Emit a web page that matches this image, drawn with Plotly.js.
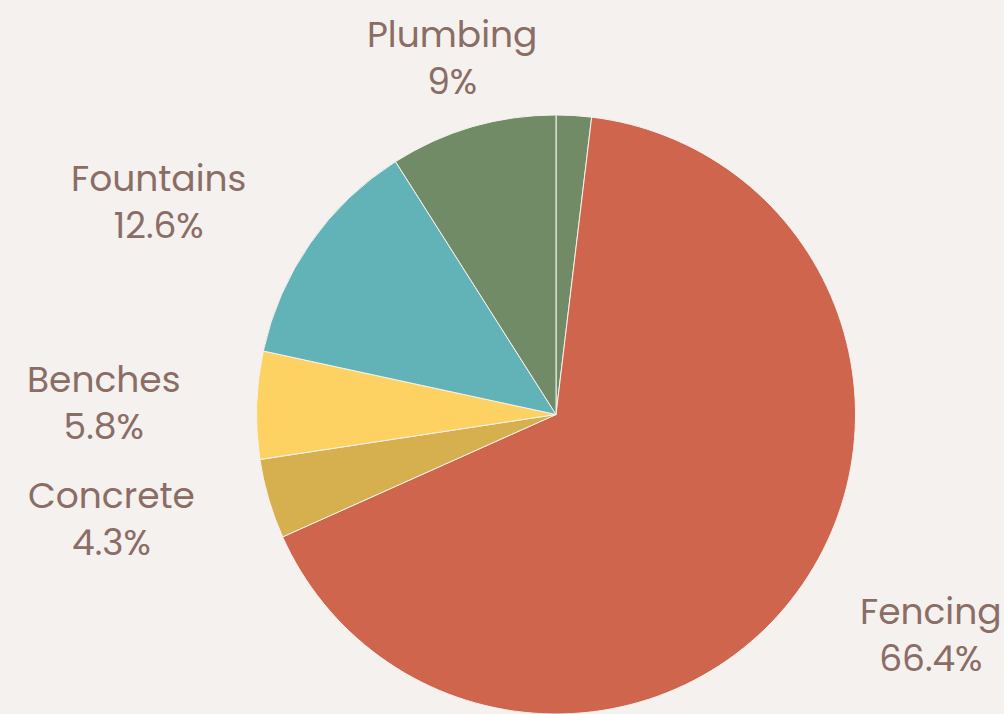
<!DOCTYPE html>
<html>
<head>
<meta charset="utf-8">
<script src="https://cdn.plot.ly/plotly-3.0.1.min.js"></script>
<style>html,body{margin:0;padding:0;background:#F5F1EE;}#chart{width:1004px;height:714px;}</style>
</head>
<body>
<div id="chart"></div>
<script>
var labels = ["", "Fencing", "Concrete", "Benches", "Fountains", "Plumbing"];
var values = [1.9, 66.4, 4.3, 5.8, 12.6, 9.0];
var sliceColors = ["#728B67", "#CF654C", "#D6B04E", "#FDD262", "#62B3B7", "#728B67"];

var W = 1004, H = 714;
var dom = {x: [108 / W, 1], y: [0, 599 / H]};
var labelFont = {family: "Poppins, 'Open Sans', sans-serif", size: 36, color: "#8A6D65"};

function fmtPct(v) {
  var s = (v * 100).toPrecision(3);
  if (s.indexOf('.') !== -1) s = s.replace(/[.]?0+$/, '');
  return s + '%';
}

// label placement derived from slice mid-angles (clockwise from 12 o'clock)
var total = values.reduce(function (a, b) { return a + b; }, 0);
var cx = (dom.x[0] + dom.x[1]) / 2 * W;
var cy = (1 - (dom.y[0] + dom.y[1]) / 2) * H;
var radius = Math.min((dom.x[1] - dom.x[0]) * W, (dom.y[1] - dom.y[0]) * H) / 2;
var labelR = radius * 1.24;
var annotations = [];
var acc = 0;
for (var i = 0; i < values.length; i++) {
  var frac = values[i] / total;
  var mid = (acc + frac / 2) * 2 * Math.PI;
  acc += frac;
  if (!labels[i]) continue;
  var s = Math.sin(mid), c = Math.cos(mid);
  var px = cx + labelR * s, py = cy - labelR * c;
  annotations.push({
    xref: "paper", yref: "paper",
    x: px / W, y: 1 - py / H,
    xanchor: Math.abs(s) < 0.5 ? "center" : (s > 0 ? "left" : "right"),
    yanchor: "middle",
    align: "center",
    showarrow: false,
    borderpad: 4,
    text: labels[i] + "<br>" + fmtPct(frac),
    font: labelFont
  });
}

var trace = {
  type: "pie",
  labels: labels,
  values: values,
  sort: false,
  direction: "clockwise",
  rotation: 0,
  textinfo: "none",
  domain: dom,
  marker: {colors: sliceColors, line: {color: "#F5F1EE", width: 1}},
  showlegend: false,
  hoverinfo: "label+percent"
};

var layout = {
  width: W,
  height: H,
  paper_bgcolor: "#F5F1EE",
  plot_bgcolor: "#F5F1EE",
  margin: {l: 0, r: 0, t: 0, b: 0},
  showlegend: false,
  annotations: annotations
};

Plotly.newPlot("chart", [trace], layout, {displayModeBar: false, staticPlot: true});
</script>
</body>
</html>
